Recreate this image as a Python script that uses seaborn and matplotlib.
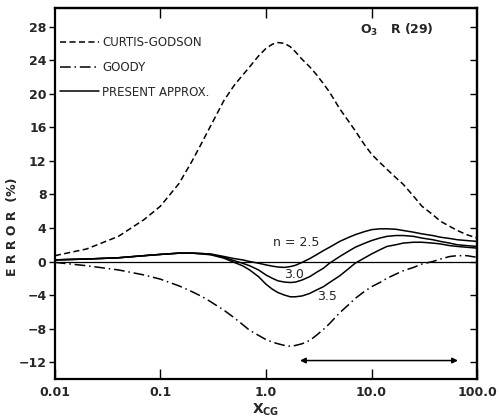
import numpy as np
import pandas as pd
import matplotlib
matplotlib.use("Agg")
import matplotlib.pyplot as plt
from matplotlib.ticker import NullLocator
import seaborn as sns

# Optical path parameter X_CG (log axis)
x_cg = [0.01, 0.02, 0.04, 0.07, 0.1, 0.15, 0.2, 0.25, 0.3, 0.4,
        0.5, 0.6, 0.7, 0.85, 1.0, 1.15, 1.3, 1.5, 1.7, 1.9,
        2.2, 2.6, 3.0, 3.5, 4.0, 5.0, 6.0, 7.0, 8.5, 10.0,
        12.0, 14.0, 17.0, 20.0, 25.0, 30.0, 38.0, 45.0, 55.0, 65.0,
        80.0, 100.0]

# Percent error of each approximation
curtis_godson = [0.7, 1.5, 3.0, 5.0, 6.6, 9.3, 12.0, 14.3, 16.2, 19.2,
                 21.0, 22.2, 23.2, 24.5, 25.4, 25.9, 26.1, 26.0, 25.6, 25.0,
                 24.1, 23.2, 22.3, 21.2, 20.2, 18.2, 16.8, 15.6, 14.0, 12.8,
                 11.8, 11.0, 10.0, 9.2, 7.8, 6.6, 5.6, 4.8, 4.2, 3.7,
                 3.2, 2.8]
goody = [-0.1, -0.5, -1.0, -1.6, -2.1, -2.9, -3.6, -4.2, -4.8, -5.8,
         -6.7, -7.5, -8.2, -8.8, -9.3, -9.6, -9.8, -10.0, -10.1, -10.0,
         -9.8, -9.4, -8.8, -8.1, -7.4, -6.1, -5.2, -4.4, -3.6, -3.0,
         -2.5, -2.0, -1.5, -1.1, -0.7, -0.3, 0.0, 0.3, 0.6, 0.7,
         0.7, 0.5]
present_n25 = [0.2, 0.3, 0.45, 0.7, 0.85, 1.0, 1.0, 0.95, 0.9, 0.6,
               0.35, 0.2, 0.0, -0.2, -0.4, -0.55, -0.65, -0.7, -0.6, -0.45,
               -0.1, 0.35, 0.8, 1.3, 1.7, 2.4, 2.85, 3.2, 3.55, 3.8,
               3.9, 3.9, 3.85, 3.7, 3.5, 3.3, 3.1, 2.9, 2.75, 2.6,
               2.5, 2.4]
present_n30 = [0.2, 0.3, 0.45, 0.7, 0.85, 1.0, 1.0, 0.95, 0.85, 0.5,
               0.1, -0.2, -0.5, -1.0, -1.6, -2.0, -2.3, -2.45, -2.5, -2.45,
               -2.2, -1.8, -1.3, -0.8, -0.2, 0.6, 1.2, 1.7, 2.15, 2.5,
               2.8, 3.0, 3.1, 3.1, 3.0, 2.8, 2.6, 2.4, 2.2, 2.0,
               1.9, 1.8]
present_n35 = [0.2, 0.3, 0.45, 0.7, 0.85, 1.0, 1.0, 0.9, 0.8, 0.4,
               -0.1, -0.5, -1.0, -1.8, -2.7, -3.3, -3.7, -4.0, -4.2, -4.2,
               -4.1, -3.8, -3.4, -3.0, -2.5, -1.7, -0.9, -0.2, 0.4, 0.9,
               1.4, 1.8, 2.0, 2.2, 2.3, 2.3, 2.2, 2.1, 1.9, 1.8,
               1.7, 1.6]

x_ticks = [0.01, 0.1, 1.0, 10.0, 100.0]
x_tick_labels = ["0.01", "0.1", "1.0", "10.0", "100.0"]
y_ticks = [-12, -8, -4, 0, 4, 8, 12, 16, 20, 24, 28]

sns.set_theme(style="white")
plt.rcParams["font.family"] = ["DejaVu Sans"]

fig = plt.figure(figsize=(4.99, 4.20), dpi=100)
ax = fig.add_axes([0.110, 0.0976, 0.846, 0.883])

df = pd.DataFrame({
    "x": x_cg, "cg": curtis_godson, "goody": goody,
    "n25": present_n25, "n30": present_n30, "n35": present_n35,
})

lw = 1.1
sns.lineplot(data=df, x="x", y="cg", ax=ax, color="black", lw=lw,
             label="CURTIS-GODSON", linestyle=(0, (4, 2.2)))
sns.lineplot(data=df, x="x", y="goody", ax=ax, color="black", lw=lw,
             label="GOODY", linestyle=(0, (7, 2.5, 1, 2.5)))
sns.lineplot(data=df, x="x", y="n25", ax=ax, color="black", lw=lw,
             label="PRESENT APPROX.")
sns.lineplot(data=df, x="x", y="n30", ax=ax, color="black", lw=lw)
sns.lineplot(data=df, x="x", y="n35", ax=ax, color="black", lw=lw)

# zero-error reference line
ax.axhline(0, color="black", lw=0.9)

ax.set_xscale("log")
ax.set_xlim(0.01, 100)
ax.set_ylim(-14, 30.2)
ax.set_xticks(x_ticks)
ax.set_xticklabels(x_tick_labels)
ax.xaxis.set_minor_locator(NullLocator())
ax.set_yticks(y_ticks)

for s in ax.spines.values():
    s.set_color("black")
    s.set_linewidth(1.6)

for lab in ax.get_xticklabels() + ax.get_yticklabels():
    lab.set_fontsize(9)
    lab.set_fontweight("bold")

ax.tick_params(axis="y", which="major", direction="out", length=4, width=1,
               left=True, right=False, pad=2, color="black")
ax.tick_params(axis="x", which="major", direction="in", length=7, width=1,
               bottom=True, top=False, pad=5, color="black")
# inward ticks on the right and top frames
ax_r = ax.secondary_yaxis("right")
ax_r.set_yticks(y_ticks)
ax_r.tick_params(direction="in", length=5, width=1, labelright=False, color="black")
ax_r.spines["right"].set_linewidth(1.6)
ax_t = ax.secondary_xaxis("top")
ax_t.set_xticks([0.1, 1.0, 10.0])
ax_t.xaxis.set_minor_locator(NullLocator())
ax_t.tick_params(direction="in", length=7, width=1, labeltop=False, color="black")
ax_t.spines["top"].set_linewidth(1.6)

ax.set_xlabel(r"X$_{\mathregular{CG}}$", fontsize=10, fontweight="bold", labelpad=2)
ax.set_ylabel("E R R O R  (%)", fontsize=9, fontweight="bold")
ax.yaxis.set_label_coords(-0.085, 0.41)

leg = ax.legend(loc="upper left", bbox_to_anchor=(0.012, 0.925), frameon=False,
                fontsize=8.5, handlelength=3.3, handletextpad=0.3,
                labelspacing=1.0, borderaxespad=0, borderpad=0)
for h in leg.get_lines():
    h.set_linewidth(1.1)

ax.text(7.8, 27.6, r"O$_{\mathregular{3}}$   R (29)", fontsize=9, fontweight="bold",
        va="center", ha="left")
ax.text(1.16, 2.3, "n = 2.5", fontsize=9, va="center", ha="left")
ax.text(1.5, -1.5, "3.0", fontsize=9, va="center", ha="left")
ax.text(3.04, -4.2, "3.5", fontsize=9, va="center", ha="left")

ax.annotate("", xy=(2.1, -11.8), xytext=(66, -11.8),
            arrowprops=dict(arrowstyle="<|-|>", color="black", lw=1.1,
                            mutation_scale=8, shrinkA=0, shrinkB=0))

fig.savefig("out.png", dpi=100)
